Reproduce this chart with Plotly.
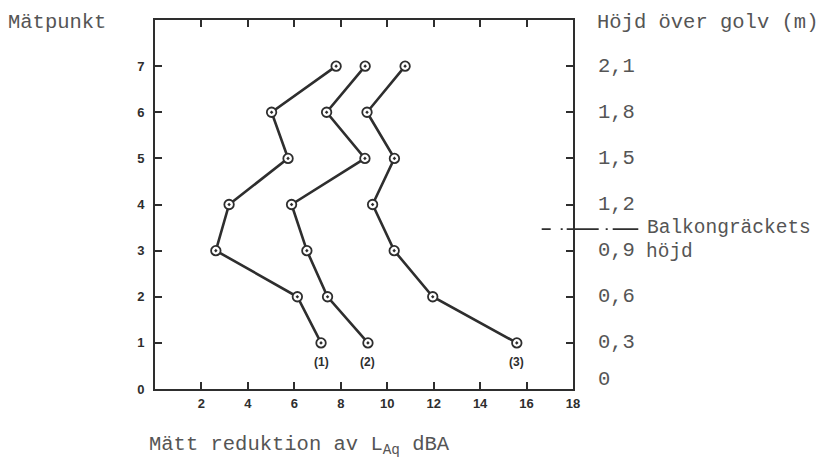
import plotly.graph_objects as go

# Data
points = [1, 2, 3, 4, 5, 6, 7]
series1 = [7.15, 6.13, 2.62, 3.19, 5.73, 5.02, 7.80]
series2 = [9.17, 7.43, 6.54, 5.88, 9.04, 7.39, 9.05]
series3 = [15.58, 11.96, 10.30, 9.37, 10.31, 9.13, 10.77]
series_labels = ["(1)", "(2)", "(3)"]
x_ticks = [2, 4, 6, 8, 10, 12, 14, 16, 18]
y_ticks = [0, 1, 2, 3, 4, 5, 6, 7]
heights = ["0", "0,3", "0,6", "0,9", "1,2", "1,5", "1,8", "2,1"]
railing_height_m = 1.04  # balkongräckets höjd
m_per_point = 0.3

LINE = "#2e2e2e"
TXT = "#555555"
MONO = "Liberation Mono"
SANS = "Liberation Sans"
MSIZE = 20.5

fig = go.Figure()
for s in (series1, series2, series3):
    fig.add_trace(go.Scatter(
        x=s, y=points, mode="lines+markers",
        line=dict(color=LINE, width=2.6),
        marker=dict(symbol="circle-dot", size=9.5, color="white",
                    line=dict(color=LINE, width=1.8)),
        showlegend=False, cliponaxis=False,
    ))

annotations = []
# series labels under point 1
for s, lab in zip((series1, series2, series3), series_labels):
    annotations.append(dict(x=s[0], y=0.58, xref="x", yref="y", text=f"<b>{lab}</b>",
                            showarrow=False, font=dict(family=SANS, size=12, color=LINE)))
# right height labels
for yv, h in zip(y_ticks, heights):
    annotations.append(dict(x=1, y=yv + (0.2 if yv == 0 else 0), xref="paper", yref="y", text=h,
                            xanchor="left", xshift=23, showarrow=False,
                            font=dict(family=MONO, size=MSIZE, color=TXT)))
railing_y = railing_height_m / m_per_point
annotations += [
    dict(x=0, y=1, xref="paper", yref="paper", text="Mätpunkt", xanchor="left", yanchor="middle",
         xshift=-149, yshift=-2, showarrow=False, font=dict(family=MONO, size=MSIZE, color=TXT)),
    dict(x=1, y=1, xref="paper", yref="paper", text="Höjd över golv (m)", xanchor="left",
         yanchor="middle", xshift=22, yshift=-2, showarrow=False,
         font=dict(family=MONO, size=MSIZE, color=TXT)),
    dict(x=1, y=railing_y, xref="paper", yref="y", text="Balkongräckets", xanchor="left",
         xshift=73, yshift=1, borderpad=0, showarrow=False,
         font=dict(family=MONO, size=19.5, color=TXT)),
    dict(x=1, y=3, xref="paper", yref="y", text="höjd", xanchor="left",
         xshift=72, yshift=-1, borderpad=0, showarrow=False,
         font=dict(family=MONO, size=19.5, color=TXT)),
    dict(x=0, y=0, xref="paper", yref="paper", text="Mätt reduktion av L<sub>Aq</sub> dBA",
         xanchor="left", yanchor="middle", xshift=-8, yshift=-56, showarrow=False,
         font=dict(family=MONO, size=MSIZE, color=TXT)),
]

# railing dash-dot line
plot_w = 822 - 155 - 249
x0 = 1 + (541.7 - 573) / plot_w
x1 = 1 + (638.3 - 573) / plot_w
shapes = [dict(type="line", xref="paper", yref="y", x0=x0, x1=x1, y0=railing_y, y1=railing_y,
               line=dict(color=LINE, width=1.8, dash="9px,10px,2px,4px,32px,7px,2px,5px,27px"))]

fig.update_layout(
    width=822, height=462,
    margin=dict(l=155, r=249, t=20, b=73),
    paper_bgcolor="white", plot_bgcolor="white",
    annotations=annotations, shapes=shapes,
    xaxis=dict(range=[0, 18], tickvals=x_ticks, ticktext=[f"<b>{v}</b>" for v in x_ticks],
               showgrid=False, zeroline=False, showline=True, linecolor=LINE, linewidth=2,
               mirror="ticks", ticks="inside", ticklen=7, tickwidth=2, tickcolor=LINE,
               tickfont=dict(family=SANS, size=13, color=LINE), ticklabelstandoff=1),
    yaxis=dict(range=[0, 8], tickvals=y_ticks, ticktext=[f"<b>{v}</b>" for v in y_ticks],
               showgrid=False, zeroline=False, showline=True, linecolor=LINE, linewidth=2,
               mirror="ticks", ticks="inside", ticklen=7, tickwidth=2, tickcolor=LINE,
               tickfont=dict(family=SANS, size=13, color=LINE), ticklabelstandoff=6),
)
fig.write_html("out.html")
